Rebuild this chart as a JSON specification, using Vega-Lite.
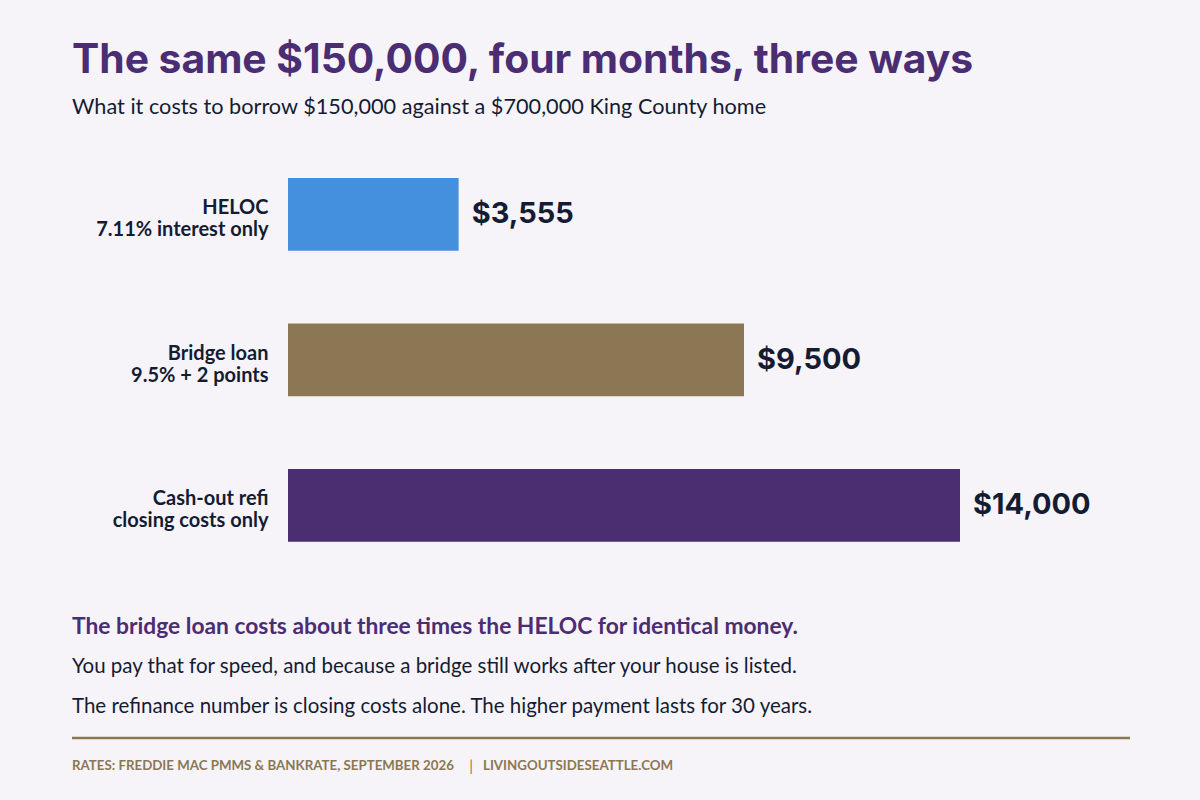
{
  "$schema": "https://vega.github.io/schema/vega-lite/v6.json",
  "autosize": {"type": "none"},
  "width": 672,
  "height": 436.5,
  "padding": {"left": 288, "top": 141.6, "right": 240, "bottom": 221.9},
  "background": "#f6f4f9",
  "title": {
    "text": "The same $150,000, four months, three ways",
    "subtitle": "What it costs to borrow $150,000 against a $700,000 King County home",
    "anchor": "start",
    "frame": "group",
    "dx": -216,
    "offset": 22,
    "font": "Inter",
    "fontSize": 40.8,
    "fontWeight": 700,
    "color": "#4b2d73",
    "subtitleFont": "Lato",
    "subtitleFontSize": 21.7,
    "subtitleColor": "#141c33",
    "subtitlePadding": 15
  },
  "config": {"view": {"stroke": null}},
  "data": {
    "values": [
      {"option": "HELOC|7.11% interest only", "cost": 3555},
      {"option": "Bridge loan|9.5% + 2 points", "cost": 9500},
      {"option": "Cash-out refi|closing costs only", "cost": 14000}
    ]
  },
  "layer": [
    {
      "mark": {"type": "bar"},
      "encoding": {
        "y": {
          "field": "option",
          "type": "nominal",
          "sort": null,
          "scale": {"paddingInner": 0.5, "paddingOuter": 0.25},
          "axis": {
            "title": null,
            "domain": false,
            "ticks": false,
            "labelPadding": 20,
            "labelFont": "Lato",
            "labelFontSize": 20,
            "labelFontWeight": 700,
            "labelColor": "#141c33",
            "labelLineHeight": 22,
            "labelAlign": "right",
            "labelBaseline": "middle",
            "labelOffset": -6,
            "labelExpr": "split(datum.label, '|')"
          }
        },
        "x": {
          "field": "cost",
          "type": "quantitative",
          "scale": {"domain": [0, 14000], "nice": false},
          "axis": null
        },
        "color": {
          "field": "option",
          "type": "nominal",
          "scale": {
            "domain": ["HELOC|7.11% interest only", "Bridge loan|9.5% + 2 points", "Cash-out refi|closing costs only"],
            "range": ["#448fde", "#8b7753", "#4b2d71"]
          },
          "legend": null
        }
      }
    },
    {
      "mark": {"type": "text", "align": "left", "baseline": "middle", "dx": 13, "font": "Inter", "fontSize": 29, "fontWeight": 700, "color": "#141c33"},
      "encoding": {
        "y": {"field": "option", "type": "nominal", "sort": null},
        "x": {"field": "cost", "type": "quantitative"},
        "text": {"field": "cost", "type": "quantitative", "format": "$,.0f"}
      }
    },
    {
      "data": {"values": [{"t": "The bridge loan costs about three times the HELOC for identical money."}]},
      "mark": {"type": "text", "align": "left", "baseline": "alphabetic", "font": "Lato", "fontSize": 22.8, "fontWeight": 700, "color": "#4b2d73"},
      "encoding": {"text": {"field": "t"}, "x": {"value": -216}, "y": {"value": 492.4}}
    },
    {
      "data": {"values": [{"t": "You pay that for speed, and because a bridge still works after your house is listed."}]},
      "mark": {"type": "text", "align": "left", "baseline": "alphabetic", "font": "Lato", "fontSize": 20.5, "color": "#141c33"},
      "encoding": {"text": {"field": "t"}, "x": {"value": -216}, "y": {"value": 531.4}}
    },
    {
      "data": {"values": [{"t": "The refinance number is closing costs alone. The higher payment lasts for 30 years."}]},
      "mark": {"type": "text", "align": "left", "baseline": "alphabetic", "font": "Lato", "fontSize": 20.5, "color": "#141c33"},
      "encoding": {"text": {"field": "t"}, "x": {"value": -216}, "y": {"value": 571.4}}
    },
    {
      "data": {"values": [{"t": "rule"}]},
      "mark": {"type": "rule", "strokeWidth": 2.5, "color": "#8b7753"},
      "encoding": {"x": {"value": -216}, "x2": {"value": 842}, "y": {"value": 596.4}}
    },
    {
      "data": {"values": [{"t": "RATES: FREDDIE MAC PMMS & BANKRATE, SEPTEMBER 2026"}]},
      "mark": {"type": "text", "align": "left", "baseline": "alphabetic", "font": "Lato", "fontSize": 13.3, "fontWeight": 700, "color": "#8b7753"},
      "encoding": {"text": {"field": "t"}, "x": {"value": -216}, "y": {"value": 628.4}}
    },
    {
      "data": {"values": [{"t": "|"}]},
      "mark": {"type": "text", "align": "center", "baseline": "alphabetic", "font": "Lato", "fontSize": 15, "color": "#8b7753"},
      "encoding": {"text": {"field": "t"}, "x": {"value": 183}, "y": {"value": 629.4}}
    },
    {
      "data": {"values": [{"t": "LIVINGOUTSIDESEATTLE.COM"}]},
      "mark": {"type": "text", "align": "left", "baseline": "alphabetic", "font": "Lato", "fontSize": 13.3, "fontWeight": 700, "color": "#8b7753"},
      "encoding": {"text": {"field": "t"}, "x": {"value": 195}, "y": {"value": 628.4}}
    }
  ]
}
